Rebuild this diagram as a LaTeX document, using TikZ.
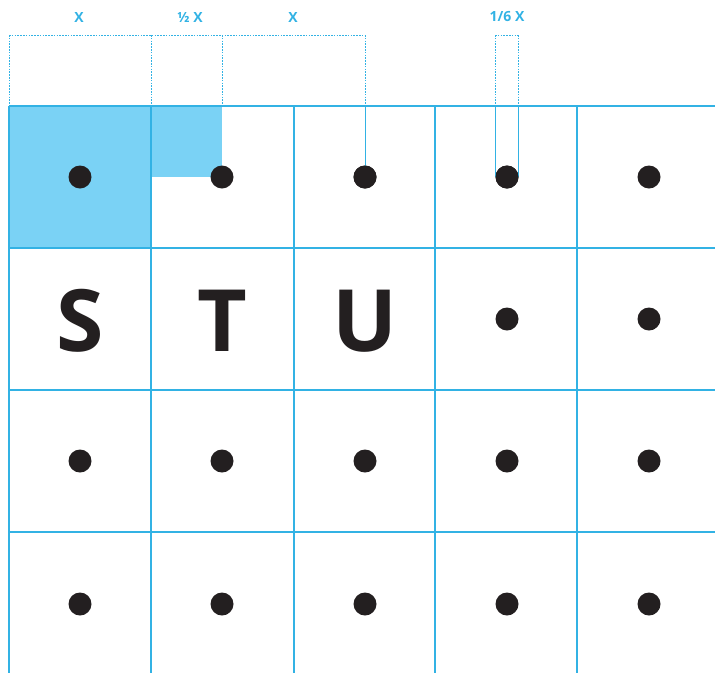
\documentclass[tikz,border=0pt]{standalone}
\usepackage{fontspec}
\setmainfont{Open Sans}
\definecolor{gridblue}{RGB}{50,178,228}
\definecolor{fillblue}{RGB}{122,210,245}
\definecolor{dotblack}{RGB}{35,31,32}
\tikzset{
  gridline/.style={draw=gridblue, line width=1.4pt},
  measline/.style={draw=gridblue, line width=0.8pt, dash pattern=on 1.6pt off 1.2pt},
  guideline/.style={draw=gridblue, line width=0.8pt},
  dotnode/.style={circle, fill=dotblack, inner sep=0pt, minimum size=23pt},
  bigletter/.style={font=\fontsize{86}{86}\selectfont\bfseries, text=dotblack, inner sep=0pt},
  measlabel/.style={font=\fontsize{14}{14}\selectfont\bfseries, text=gridblue, inner sep=0pt}
}
\begin{document}
\begin{tikzpicture}[x=1pt,y=-1pt]
\useasboundingbox (0,0) rectangle (715,673);
% fills
\fill[fillblue] (9,106) rectangle (151,248);
\fill[fillblue] (151,106) rectangle (222,177);
% grid
\foreach \x in {9,151,294,435,577} \draw[gridline] (\x,106) -- (\x,673);
\foreach \y in {106,248,390,532} \draw[gridline] (9,\y) -- (715,\y);
% dots and letters
\foreach \c/\x in {1/80,2/222,3/365,4/507,5/649} {
  \node[dotnode] (d1\c) at (\x,177) {};
  \node[dotnode] (d3\c) at (\x,461) {};
  \node[dotnode] (d4\c) at (\x,604) {};
}
\node[bigletter] (S) at (80,321) {S};
\node[bigletter] (T) at (222,321) {T};
\node[bigletter] (U) at (365,321) {U};
\node[dotnode] (d24) at (507,319) {};
\node[dotnode] (d25) at (649,319) {};
% measurement coordinates
\coordinate (m0) at (9,35);
\coordinate (m1) at (151,35);
\coordinate (m2) at (222,35);
\coordinate (m3) at (365,35);
\coordinate (b0) at (9,106);
\coordinate (b1) at (151,106);
\coordinate (b2) at (222,106);
\coordinate (b3) at (365,106);
\coordinate (n1) at (495,35);
\coordinate (n2) at (518,35);
\coordinate (c1) at (495,106);
\coordinate (c2) at (518,106);
\coordinate (e1) at (495,177);
\coordinate (e2) at (518,177);
\draw[measline] (m0) -- (m3);
\draw[measline] (m0) -- (b0);
\draw[measline] (m1) -- (b1);
\draw[measline] (m2) -- (b2);
\draw[measline] (m3) -- (b3);
\draw[guideline] (b3) -- (d13.center);
\draw[measline] (n1) -- (n2);
\draw[measline] (n1) -- (c1);
\draw[measline] (n2) -- (c2);
\draw[guideline] (c1) -- (e1);
\draw[guideline] (c2) -- (e2);
\node[dotnode] at (d13) {};
\node[dotnode] at (d14) {};
% labels
\node[measlabel] (lx1) at (79,17) {X};
\node[measlabel] (lx2) at (190,17) {½ X};
\node[measlabel] (lx3) at (293,17) {X};
\node[measlabel] (lx4) at (507,17) {1/6 X};
\end{tikzpicture}
\end{document}
